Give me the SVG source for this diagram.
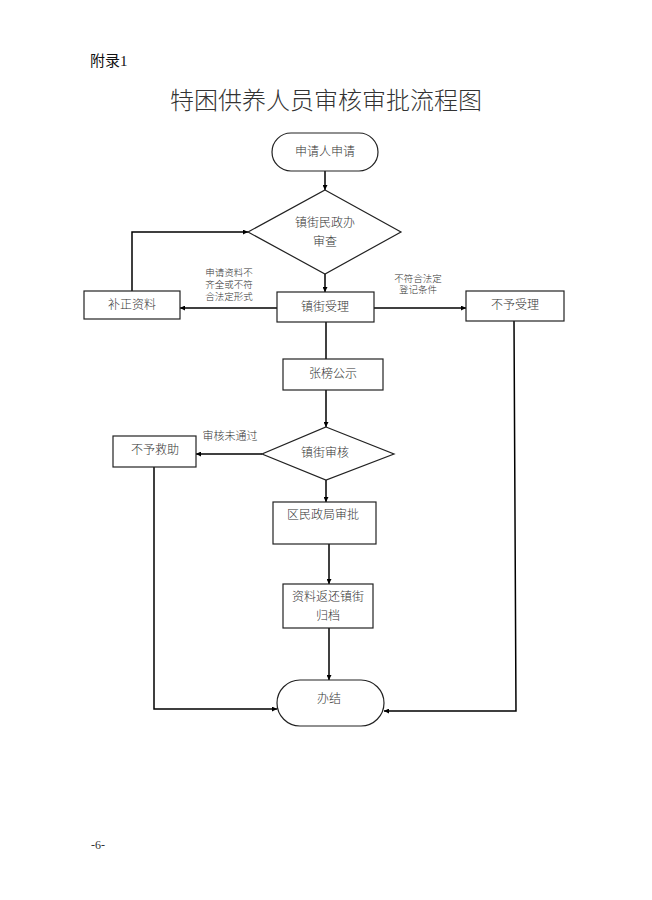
<svg xmlns="http://www.w3.org/2000/svg" width="652" height="900" viewBox="0 0 652 900">
<defs>
<marker id="arr" viewBox="0 0 8 8" refX="8" refY="4" markerWidth="5" markerHeight="5" markerUnits="userSpaceOnUse" orient="auto">
<path d="M0,0 L8,4 L0,8 z" fill="#000"/>
</marker>
<style>
text{font-family:"Liberation Serif","Noto Sans CJK SC",serif;fill:#333;text-anchor:middle;font-weight:300}
.box{fill:#fff;stroke:#222;stroke-width:1.2}
.ln{fill:none;stroke:#000;stroke-width:1.5}
.ar{fill:none;stroke:#000;stroke-width:1.5;marker-end:url(#arr)}
.t{font-size:12px}
.s{font-size:9.5px}
</style>
</defs>
<rect width="652" height="900" fill="#fff"/>
<text x="90" y="66" style="font-size:15px;text-anchor:start;font-weight:normal;fill:#111">附录1</text>
<text x="326" y="109" style="font-size:24px">特困供养人员审核审批流程图</text>

<g id="connectors">
<path class="ar" d="M325,171 L325,190"/>
<path class="ar" d="M325,274 L325,292"/>
<path class="ar" d="M277,308 L180,308"/>
<path class="ar" d="M132,291 L132,232 L248,232"/>
<path class="ar" d="M374,308 L466,308"/>
<path class="ln" d="M326,322 L326,359"/>
<path class="ar" d="M326,390 L326,427"/>
<path class="ar" d="M262,454 L196,454"/>
<path class="ar" d="M326,480 L326,502"/>
<path class="ar" d="M329,544 L329,584"/>
<path class="ar" d="M329,628 L329,680"/>
<path class="ar" d="M154,467 L154,709 L277,709"/>
<path class="ar" d="M514,321 L516,711 L384,711"/>
<text class="s" x="229" y="276">申请资料不</text>
<text class="s" x="229" y="288">齐全或不符</text>
<text class="s" x="229" y="300">合法定形式</text>
<text class="s" x="418" y="282">不符合法定</text>
<text class="s" x="418" y="293">登记条件</text>
<text class="t" x="230" y="440" style="font-size:11px">审核未通过</text>
</g>

<g id="n-start">
<rect class="box" x="272" y="133" width="106" height="38" rx="19"/>
<text class="t" x="325" y="156">申请人申请</text>
</g>
<g id="n-review">
<path class="box" d="M325,190 L401,232 L325,274 L248,232 z"/>
<text class="t" x="325" y="227">镇街民政办</text>
<text class="t" x="325" y="246">审查</text>
</g>
<g id="n-accept">
<rect class="box" x="277" y="292" width="97" height="30"/>
<text class="t" x="325" y="311">镇街受理</text>
</g>
<g id="n-fix">
<rect class="box" x="84" y="291" width="96" height="28"/>
<text class="t" x="132" y="309">补正资料</text>
</g>
<g id="n-reject">
<rect class="box" x="466" y="291" width="98" height="30"/>
<text class="t" x="515" y="309">不予受理</text>
</g>
<g id="n-publish">
<rect class="box" x="283" y="359" width="100" height="31"/>
<text class="t" x="333" y="378">张榜公示</text>
</g>
<g id="n-audit">
<path class="box" d="M326,427 L394,454 L326,480 L262,454 z"/>
<text class="t" x="325" y="457">镇街审核</text>
</g>
<g id="n-noaid">
<rect class="box" x="113" y="436" width="83" height="31"/>
<text class="t" x="155" y="454">不予救助</text>
</g>
<g id="n-approve">
<rect class="box" x="273" y="502" width="103" height="42"/>
<text class="t" x="323" y="519">区民政局审批</text>
</g>
<g id="n-archive">
<rect class="box" x="283" y="584" width="90" height="44"/>
<text class="t" x="328" y="601">资料返还镇街</text>
<text class="t" x="328" y="620">归档</text>
</g>
<g id="n-end">
<rect class="box" x="277" y="680" width="107" height="46" rx="23"/>
<text class="t" x="329" y="703">办结</text>
</g>
<text x="98" y="849" style="font-size:12px">-6-</text>
</svg>
